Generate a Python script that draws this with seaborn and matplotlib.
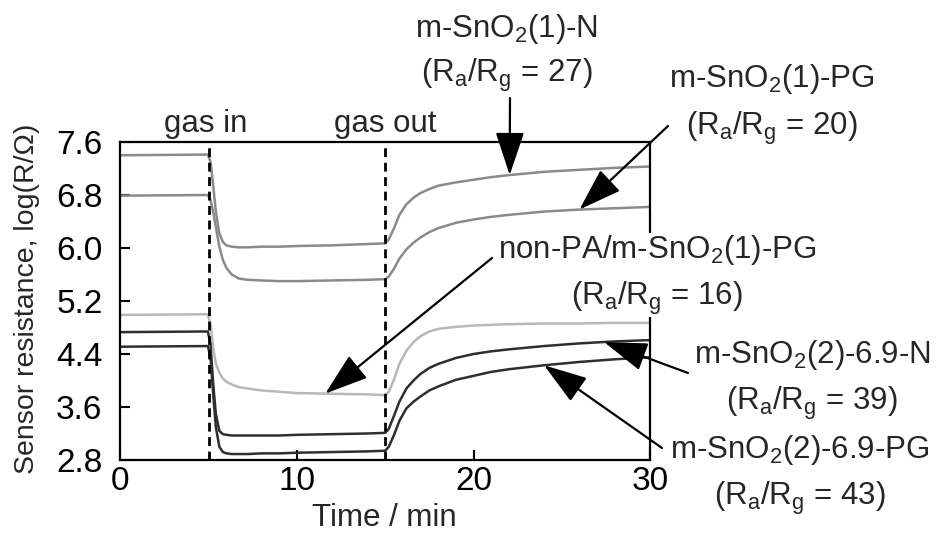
import numpy as np
import pandas as pd
import seaborn as sns
import matplotlib
matplotlib.use("Agg")
import matplotlib.pyplot as plt
from matplotlib.patches import Rectangle, ArrowStyle
from matplotlib.transforms import Bbox, IdentityTransform

# ---------------- data ----------------
time_min = [0, 4.95, 5.1, 5.25, 5.4, 5.6, 5.8, 6.0, 6.3, 6.7, 7.2, 8, 9, 10, 12, 14,
            15.0, 15.2, 15.5, 15.8, 16.2, 16.6, 17.0, 17.5, 18, 19, 20, 21, 22, 24, 26, 28, 30]

r_sno2_1_n = [7.40, 7.41, 7.30, 6.95, 6.55, 6.22, 6.09, 6.04, 6.02, 6.01, 6.01, 6.02, 6.02, 6.03, 6.04, 6.06,
              6.07, 6.13, 6.30, 6.50, 6.66, 6.76, 6.83, 6.89, 6.94, 6.99, 7.03, 7.07, 7.10, 7.15, 7.18, 7.21, 7.23]
r_sno2_1_pg = [6.79, 6.80, 6.72, 6.55, 6.32, 6.02, 5.82, 5.70, 5.60, 5.54, 5.52, 5.51, 5.50, 5.50, 5.51, 5.52,
               5.53, 5.57, 5.69, 5.84, 5.98, 6.08, 6.16, 6.24, 6.30, 6.38, 6.43, 6.47, 6.50, 6.55, 6.58, 6.60, 6.62]
r_nonpa_pg = [4.99, 5.00, 4.85, 4.50, 4.25, 4.12, 4.03, 3.98, 3.94, 3.90, 3.88, 3.85, 3.83, 3.81, 3.80, 3.79,
              3.78, 3.83, 4.02, 4.25, 4.45, 4.58, 4.67, 4.74, 4.78, 4.81, 4.83, 4.84, 4.85, 4.86, 4.86, 4.87, 4.87]
r_sno2_2_n = [4.73, 4.74, 4.55, 3.95, 3.50, 3.24, 3.19, 3.18, 3.17, 3.17, 3.17, 3.17, 3.17, 3.18, 3.19, 3.20,
              3.21, 3.27, 3.47, 3.68, 3.88, 4.00, 4.10, 4.19, 4.25, 4.34, 4.40, 4.44, 4.47, 4.52, 4.56, 4.59, 4.61]
r_sno2_2_pg = [4.51, 4.52, 4.35, 3.80, 3.30, 3.00, 2.92, 2.90, 2.89, 2.89, 2.89, 2.90, 2.90, 2.91, 2.92, 2.93,
               2.94, 3.00, 3.18, 3.39, 3.58, 3.68, 3.76, 3.85, 3.91, 4.01, 4.07, 4.13, 4.17, 4.23, 4.28, 4.32, 4.35]

series_names = ["m-SnO$_2$(1)-N", "m-SnO$_2$(1)-PG", "non-PA/m-SnO$_2$(1)-PG",
                "m-SnO$_2$(2)-6.9-N", "m-SnO$_2$(2)-6.9-PG"]
series_values = [r_sno2_1_n, r_sno2_1_pg, r_nonpa_pg, r_sno2_2_n, r_sno2_2_pg]
series_colors = ["#8a8a8a", "#8a8a8a", "#b8b8b8", "#2e2e2e", "#2e2e2e"]
ratios = [27, 20, 16, 39, 43]
arrow_tip_time = [22.05, 26.0, 11.6, 27.4, 24.0]

gas_in_t = 5.0
gas_out_t = 15.0
x_ticks = [0, 10, 20, 30]
y_ticks = [2.8, 3.6, 4.4, 5.2, 6.0, 6.8, 7.6]

# ---------------- style ----------------
sns.set_style("ticks")
plt.rcParams["font.family"] = ["Liberation Sans", "DejaVu Sans"]
plt.rcParams["mathtext.fontset"] = "custom"
plt.rcParams["mathtext.rm"] = "Liberation Sans"
plt.rcParams["mathtext.it"] = "Liberation Sans:italic"
plt.rcParams["mathtext.bf"] = "Liberation Sans:bold"
plt.rcParams["mathtext.default"] = "regular"

W, H = 939, 538
FS = 22.5      # annotation / axis-label text
FS_TICK = 24   # tick labels
FS_YLAB = 20.5


def fpx(x, y):
    """pixel position (from top-left) -> figure fraction"""
    return (x / W, 1 - y / H)


fig = plt.figure(figsize=(W / 100, H / 100), dpi=100)
ax = fig.add_axes([120.5 / W, 1 - 460 / H, (650 - 120.5) / W, (460 - 142) / H])

rows = []
for name, vals in zip(series_names, series_values):
    for t, v in zip(time_min, vals):
        rows.append((name, t, v))
df = pd.DataFrame(rows, columns=["series", "time", "logR"])

sns.lineplot(data=df, x="time", y="logR", hue="series", hue_order=series_names,
             palette=dict(zip(series_names, series_colors)), estimator=None,
             sort=False, lw=1.8, legend=False, ax=ax, zorder=2)

for tv in (gas_in_t, gas_out_t):
    ax.axvline(tv, color="black", lw=2.0, ls=(0, (3.2, 2.0)), zorder=3)

ax.set_xlim(x_ticks[0], x_ticks[-1])
ax.set_ylim(y_ticks[0], y_ticks[-1])
ax.set_xticks(x_ticks)
ax.set_xticklabels([str(v) for v in x_ticks])
ax.set_yticks(y_ticks)
ax.set_yticklabels([f"{v:.1f}" for v in y_ticks])
ax.tick_params(axis="both", direction="in", length=7, width=1.5, labelsize=FS_TICK,
               colors="black", top=False, right=False)
ax.tick_params(axis="y", pad=13)
ax.tick_params(axis="x", pad=4)
for s in ax.spines.values():
    s.set_visible(True)
    s.set_linewidth(1.6)
    s.set_color("black")
ax.set_xlabel("")
ax.set_ylabel("")

fig.text(*fpx(27, 299), "Sensor resistance, log(R/Ω)", rotation=90,
         ha="center", va="center", fontsize=FS_YLAB)
fig.text(*fpx(384, 518), "Time / min", ha="center", va="center", fontsize=FS)

fig.text(*fpx(206, 132), "gas in", ha="center", va="baseline", fontsize=FS)
fig.text(*fpx(385, 132), "gas out", ha="center", va="baseline", fontsize=FS)

# label positions: (center x, baseline line1, baseline line2) and arrow start, in pixels
label_pos = [(507, 37, 82), (772, 87, 135), (657, 258, 305), (812, 363, 410), (800, 458, 505)]
arrow_start = [(510, 98), (668, 126), (492, 258), (688, 373), (662, 448)]

astyle = ArrowStyle("-|>", head_length=1.35, head_width=0.45)
label_texts = []
for name, ratio, (cx, b1, b2), (sx, sy), tip_t, vals in zip(
        series_names, ratios, label_pos, arrow_start, arrow_tip_time, series_values):
    t1 = fig.text(*fpx(cx, b1), name, ha="center", va="baseline", fontsize=FS, zorder=5)
    t2 = fig.text(*fpx(cx, b2), f"(R$_a$/R$_g$ = {ratio})", ha="center", va="baseline",
                  fontsize=FS, zorder=5)
    label_texts.append((t1, t2))
    tip_v = float(np.interp(tip_t, time_min, vals))
    ax.annotate("", xy=(tip_t, tip_v), xycoords="data",
                xytext=fpx(sx, sy), textcoords="figure fraction",
                arrowprops=dict(arrowstyle=astyle, mutation_scale=20, lw=1.6,
                                color="black", shrinkA=0, shrinkB=0),
                annotation_clip=False, zorder=6)

# white background behind the label that overlaps the right spine
fig.canvas.draw()
renderer = fig.canvas.get_renderer()
t1, t2 = label_texts[2]
bb = Bbox.union([t1.get_window_extent(renderer), t2.get_window_extent(renderer)])
rect = Rectangle((bb.x0, bb.y0), bb.width, bb.height, transform=IdentityTransform(),
                 facecolor="white", edgecolor="none", zorder=4)
fig.add_artist(rect)

fig.savefig("out.png", dpi=100)
